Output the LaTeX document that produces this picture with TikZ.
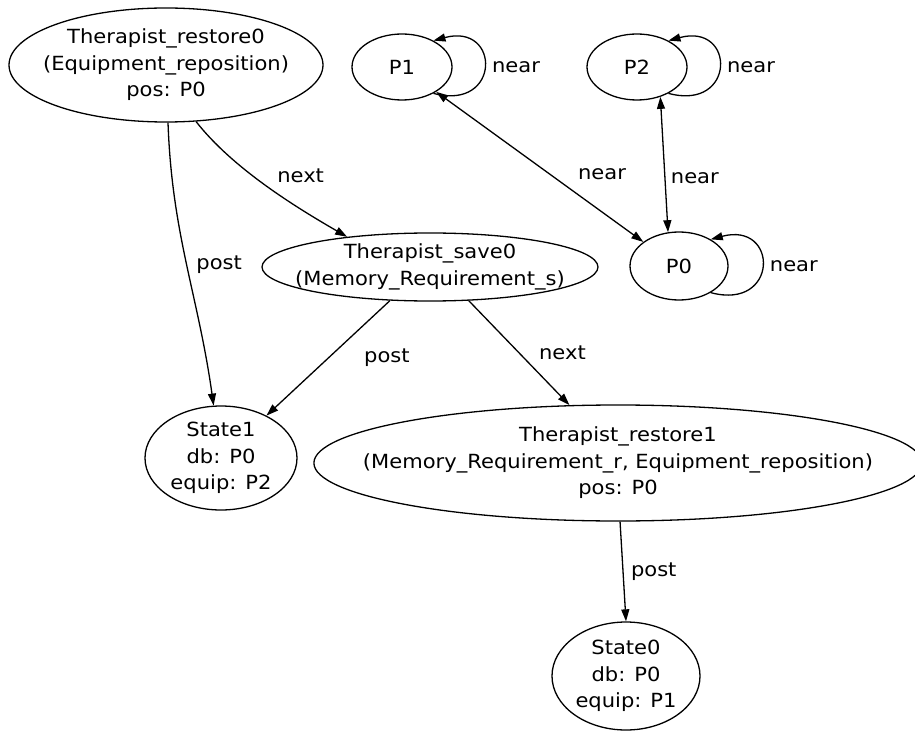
\documentclass[tikz,border=0pt]{standalone}
\usepackage{fontspec}
\setmainfont{DejaVu Sans}[FakeStretch=1.08]
\usetikzlibrary{arrows.meta,positioning,shapes.geometric}

\begin{document}
\begin{tikzpicture}[
x=1pt,y=1pt,
font=\fontsize{19.5}{26.5}\selectfont,
state/.style={ellipse,draw,line width=1.3pt,align=center,inner sep=-40pt},
link/.style={->,line width=1.3pt,>={Triangle[length=12pt,width=8pt]}},
twoway/.style={<->,line width=1.3pt,>={Triangle[length=12pt,width=8pt]}}
]
    \useasboundingbox (0,0) rectangle (915,-735);

    % Draw states
    \node[state, minimum width=314pt, minimum height=114pt] (r0) at (166,-65)
        {Therapist\_restore0\\(Equipment\_reposition)\\pos: P0};
    \node[state, minimum width=336pt, minimum height=68pt] (s0) at (430,-267)
        {Therapist\_save0\\(Memory\_Requirement\_s)};
    \node[state, minimum width=152pt, minimum height=104pt] (st1) at (221,-458)
        {State1\\db: P0\\equip: P2};
    \node[state, minimum width=586pt, minimum height=116pt] (r1) at (618,-463)
        {Therapist\_restore1\\(Memory\_Requirement\_r, Equipment\_reposition)\\pos: P0};
    \node[state, minimum width=148pt, minimum height=108pt] (st0) at (626,-676)
        {State0\\db: P0\\equip: P1};

    % Draw places
    \node[state, minimum width=100pt, minimum height=66pt] (p1) at (402,-67) {P1};
    \node[state, minimum width=100pt, minimum height=66pt] (p2) at (637,-67) {P2};
    \node[state, minimum width=98pt, minimum height=68pt] (p0) at (679,-266) {P0};

    \draw[link] (r0.-88) to[out=-88,in=98] node[right=6pt]{post} (st1.98);
    \draw[link] (r0.-62) to[out=-52,in=150,looseness=0.8] node[pos=0.42,right=20pt]{next} (s0.160);
    \draw[link] (s0.-140) -- node[right=32pt]{post} (st1.43);
    \draw[link] (s0.-41) -- node[right=16pt]{next} (r1.130);
    \draw[link] (r1.-88) -- node[right=4pt]{post} (st0.north);

    \draw[twoway] (p1.-36) -- node[pos=0.55,right=24pt]{near} (p0.146);
    \draw[twoway] (p2.-52) -- node[pos=0.6,right=2pt]{near} (p0.108);

%   \draw[link] (p1) edge[loop right] (p1);
    \draw[link] (p1.-40) to[out=-15,in=15,looseness=3.4] node[right=4pt]{near} (p1.40);
    \draw[link] (p2.-40) to[out=-15,in=15,looseness=3.4] node[right=4pt]{near} (p2.40);
    \draw[link] (p0.-40) to[out=-15,in=15,looseness=3.4] node[right=4pt]{near} (p0.40);

\end{tikzpicture}
\end{document}
